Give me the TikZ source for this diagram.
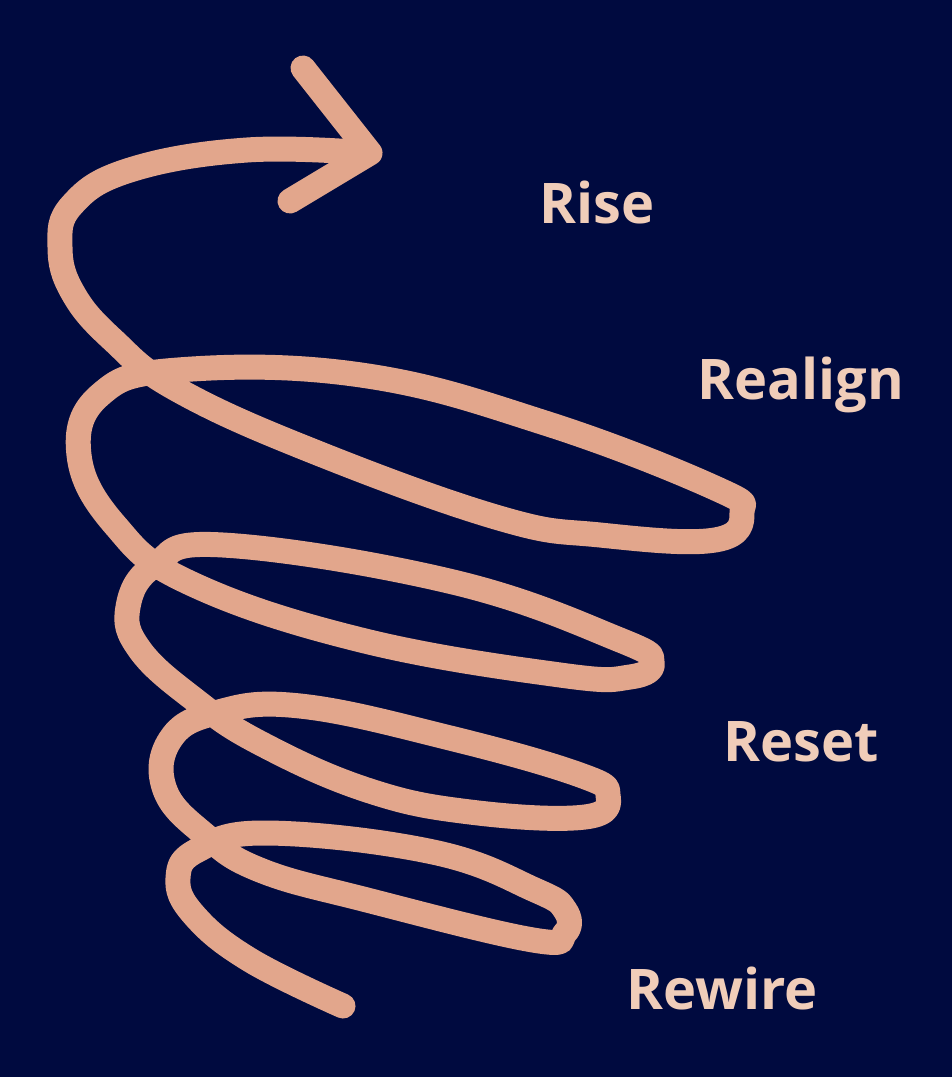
\documentclass[tikz,border=0pt]{standalone}
\usepackage{fontspec}
\setmainfont{Open Sans}
\definecolor{bg}{HTML}{000A3F}
\definecolor{copper}{HTML}{E2A68C}
\definecolor{lbl}{HTML}{F0CDB9}
\begin{document}
\begin{tikzpicture}[x=1pt,y=-1pt,
  coil/.style={draw=copper,line width=25pt,line cap=round,line join=round},
  word/.style={text=lbl,font=\fontsize{56}{64}\selectfont\bfseries,inner sep=0pt}]
\fill[bg] (0,0) rectangle (952,1077);
\useasboundingbox (0,0) rectangle (952,1077);
\draw[coil] plot[smooth,tension=0.7] coordinates {
 (343,1006) (250,960) (194,915) (178,878) (198,850) (267,833) (433,852) (535,890) (565,910) (565,933)
 (533,940) (367,900) (260,870) (205,835) (165,790) (170,740) (215,713) (300,706) (450,738) (580,775) (608,795)
 (585,817) (470,812) (367,790) (260,743) (195,700) (140,650) (128,607) (155,565) (223,545) (453,582) (620,640) (652,662)
 (630,677) (560,675) (361,640) (190,583) (115,525) (79,455) (100,395) (178,370) (361,375) (545,423) (715,488) (742,512)
 (715,540) (600,535) (499,518) (315,452) (178,390) (113,340) (73,293) (60,247) (72,205) (130,170) (247,150) (368,153)};
\coordinate (tip) at (370,153);
\coordinate (w1) at (303,68);
\coordinate (w2) at (290,201);
\draw[coil] (w1) -- (tip) -- (w2);
\node[word] (rise) at (597,202) {Rise};
\node[word] (realign) at (801,385) {Realign};
\node[word] (reset) at (801,742) {Reset};
\node[word] (rewire) at (722,988) {Rewire};
\end{tikzpicture}
\end{document}
